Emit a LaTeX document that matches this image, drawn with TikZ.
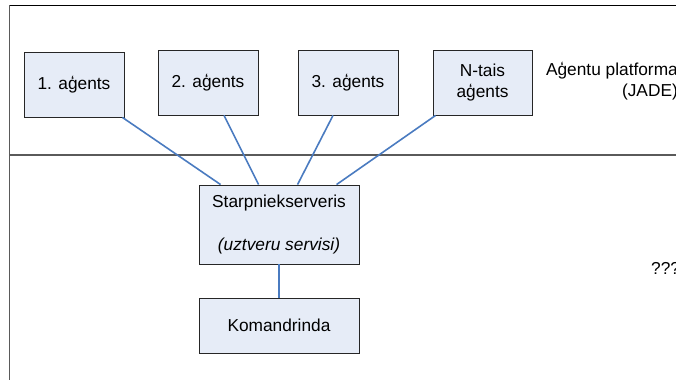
\documentclass[tikz,border=0pt]{standalone}
\usepackage{fontspec}
\setmainfont{Liberation Sans}
\definecolor{boxfill}{HTML}{E6ECF7}
\definecolor{linkblue}{HTML}{4A7BC0}
\definecolor{framegray}{HTML}{5A5A5A}
\begin{document}
\begin{tikzpicture}[x=1pt,y=-1pt,
  agentbox/.style={draw=black!85, line width=0.9pt, fill=boxfill, inner sep=0pt,
    align=center, font=\fontsize{17.3}{21}\selectfont},
  link/.style={draw=linkblue, line width=1.6pt},
  plain/.style={inner sep=0pt, font=\fontsize{17.3}{21}\selectfont}]
\useasboundingbox (0,0) rectangle (676,380);

% platform frame
\draw[black, line width=1pt] (9.5,5) -- (676,5);
\draw[framegray, line width=1pt] (9.5,5) -- (9.5,380);
\draw[framegray, line width=1.5pt] (9.5,155) -- (676,155);

% agents
\node[agentbox, minimum width=100pt, minimum height=65pt] (a1) at (74,84.5) {1. aģents};
\node[agentbox, minimum width=100pt, minimum height=65pt] (a2) at (208,82.5) {2. aģents};
\node[agentbox, minimum width=100pt, minimum height=65pt] (a3) at (348,82.5) {3. aģents};
\node[agentbox, minimum width=99pt, minimum height=65pt] (an) at (482.5,82.5) {N-tais\\aģents};

% server and command line
\node[agentbox, minimum width=160pt, minimum height=79pt] (srv) at (279,224.5)
  {Starpniekserveris\\[22pt]\textit{(uztveru servisi)}};
\node[agentbox, minimum width=160pt, minimum height=55pt] (cmd) at (279,325.5) {Komandrinda};

% side labels
\node[plain, anchor=east, align=right] (plat) at (678,81.5) {Aģentu platforma\\(JADE)};
\node[plain, anchor=west] (qq) at (651,268) {???};

% connectors
\path (srv.north west) ++(22,0) coordinate (s1) ++(38,0) coordinate (s2)
  ++(39,0) coordinate (s3) ++(39,0) coordinate (s4);
\path (a1.south east) ++(-2,0) coordinate (e1);
\path (a2.south) ++(16,0) coordinate (e2);
\path (a3.south) ++(-15,0) coordinate (e3);
\path (an.south west) ++(3,0) coordinate (e4);
\draw[link] (e1) -- (s1);
\draw[link] (e2) -- (s2);
\draw[link] (e3) -- (s3);
\draw[link] (e4) -- (s4);
\draw[link] (srv) -- (cmd);
\end{tikzpicture}
\end{document}
